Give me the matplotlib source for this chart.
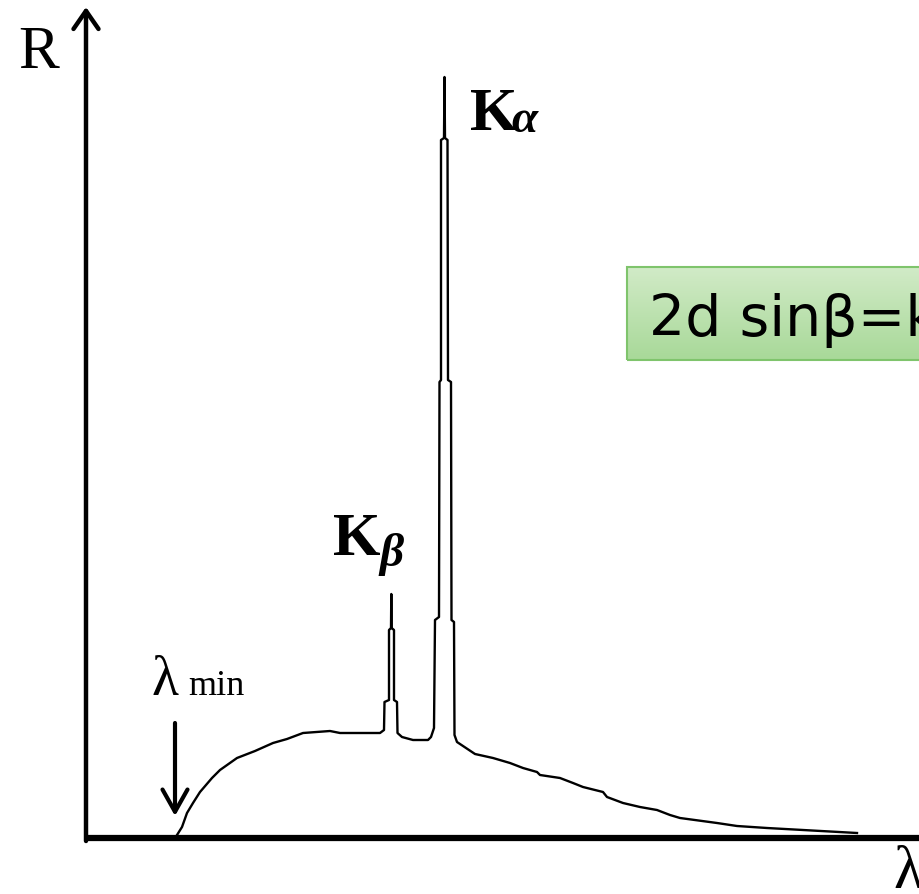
import numpy as np
import matplotlib
matplotlib.use('Agg')
from matplotlib import pyplot as plt
from matplotlib.patches import Rectangle

# X-ray spectrum: intensity R against wavelength (arbitrary units)
wavelength = [90, 95, 100, 106, 113, 125, 133, 150, 168, 186, 200, 216, 243, 253,
              293, 297, 297.5, 302, 302, 304, 304.3, 304.6, 307, 307, 310, 310.5,
              315, 326, 341, 344, 347, 348, 352, 352.5, 354, 354, 357, 357.5, 358,
              360.5, 361, 364, 364.5, 367, 367.5, 370, 385, 388, 406, 423, 436,
              450, 453, 473, 486, 496, 516, 520, 536, 553, 570, 583, 593, 630,
              650, 680, 716, 770]
intensity = [3, 11, 25, 35, 46, 60, 68, 80, 87, 95, 99, 105, 107, 105,
             105, 108, 136, 138, 208, 210, 244, 210, 208, 138, 136, 105,
             101, 98, 98, 101, 110, 218, 221, 456, 458, 698, 700, 761, 700,
             698, 458, 456, 218, 216, 103, 96, 86, 84, 80, 75, 70,
             66, 63, 60, 55, 51, 46, 41, 35, 31, 28, 23, 20, 15,
             12, 10, 8, 5]

lambda_min = 88
formula = '2d sinβ=kλ'

fig = plt.figure(figsize=(9.2, 8.94), dpi=100)
ax = fig.add_axes([0, 0, 1, 1])
ax.axis('off')

# axes of the sketch
ax.plot([0, 900], [0, 0], color='black', lw=4.5, solid_capstyle='butt', zorder=3)
ax.annotate('', xy=(-1, 831), xytext=(-1, -3),
            arrowprops=dict(arrowstyle='->,head_length=0.65,head_width=0.45',
                            lw=3.2, color='black', mutation_scale=20,
                            shrinkA=0, shrinkB=0))
ax.annotate('', xy=(850, 0), xytext=(820, 0),
            arrowprops=dict(arrowstyle='->,head_length=0.65,head_width=0.45',
                            lw=3.2, color='black', mutation_scale=20,
                            shrinkA=0, shrinkB=0))

# spectrum
ax.plot(wavelength, intensity, color='black', lw=1.7, zorder=4)

# lambda_min arrow
ax.annotate('', xy=(lambda_min, 22), xytext=(lambda_min, 115),
            arrowprops=dict(arrowstyle='->,head_length=0.8,head_width=0.45',
                            lw=3.0, color='black', mutation_scale=20,
                            shrinkA=0, shrinkB=0))

serif = 'Liberation Serif'
ax.text(-69, 770, 'R', fontsize=44, family=serif, va='baseline')
ax.text(65, 143, 'λ', fontsize=40, family=serif, va='baseline')
ax.text(101, 143, 'min', fontsize=26, family=serif, va='baseline')
ax.text(383, 708, 'K', fontsize=44, family=serif, weight='bold', va='baseline')
ax.text(424, 706, 'α', fontsize=34, family=serif, weight='bold', style='italic',
        va='baseline')
ax.text(246, 283, 'K', fontsize=44, family=serif, weight='bold', va='baseline')
ax.text(292, 272, 'β', fontsize=34, family=serif, weight='bold', style='italic',
        va='baseline')
ax.text(806, -50, 'λ', fontsize=44, family=serif, va='baseline')

# formula box with green gradient
x0, x1, y0, y1 = 540, 840, 478, 571
grad = np.linspace(0, 1, 64)[:, None, None]
top = np.array([0.82, 0.92, 0.78])
bottom = np.array([0.66, 0.85, 0.60])
img = top + (bottom - top) * grad
img = np.repeat(img, 2, axis=1)
ax.imshow(img, extent=[x0, x1, y0, y1], aspect='auto', zorder=1,
          interpolation='bilinear')
ax.add_patch(Rectangle((x0, y0), x1 - x0, y1 - y0, fill=False,
                       edgecolor='#7fc46c', lw=1.5, zorder=2))
ax.text(562, 502, formula, fontsize=41, family='DejaVu Sans', va='baseline',
        zorder=3)

ax.set_xlim(-87, 833)
ax.set_ylim(-56, 838)

fig.savefig('out.png', dpi=100)
